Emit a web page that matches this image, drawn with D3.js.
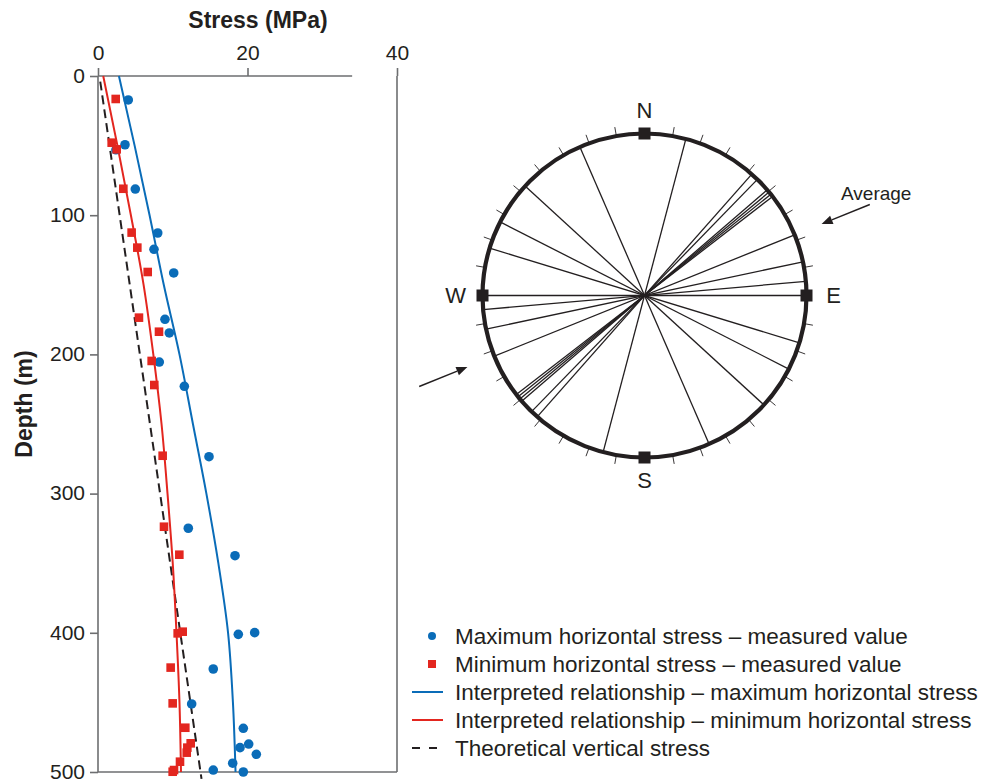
<!DOCTYPE html>
<html>
<head>
<meta charset="utf-8">
<script src="https://cdn.jsdelivr.net/npm/d3@7"></script>
<style>
  html, body { margin: 0; padding: 0; background: #fff; }
  svg { display: block; font-family: "Liberation Sans", Arial, Helvetica, sans-serif; }
</style>
</head>
<body>
<svg id="chart" width="982" height="780"></svg>
<script>
// ---------- DATA ----------
const stressTicks = [0, 20, 40];
const depthTicks = [0, 100, 200, 300, 400, 500];

// Maximum horizontal stress - measured
const maxDepth  = [17.2, 49.4, 53, 81.2, 112.8, 124.5, 141.5, 174.8, 184.6, 205.5, 222.9, 273.5, 324.9, 344.6, 401.1, 399.9, 426, 451.1, 468.6, 479.9, 482.5, 487.3, 493.7, 498.6, 500];
const maxStress = [4.05, 3.61, 2.4, 4.99, 7.99, 7.49, 10.13, 8.96, 9.54, 8.2, 11.55, 14.85, 12.08, 18.33, 18.77, 20.96, 15.42, 12.53, 19.44, 20.16, 19.0, 21.18, 18.02, 15.42, 19.44];

// Minimum horizontal stress - measured
const minDepth  = [16.5, 47.9, 52.7, 81, 112.5, 123.3, 140.8, 173.6, 183.7, 204.7, 222, 272.8, 323.8, 343.9, 400.4, 399.2, 425, 450.7, 468.2, 479.4, 482.5, 486.1, 492.6, 498.6, 499.8];
const minStress = [2.37, 1.83, 2.5, 3.39, 4.5, 5.26, 6.65, 5.48, 8.16, 7.18, 7.53, 8.65, 8.83, 10.88, 10.66, 11.33, 9.72, 9.99, 11.68, 12.4, 11.95, 11.87, 10.97, 10.17, 9.99];

// Interpreted relationships
const fitDepth  = [0, 50, 100, 150, 200, 250, 300, 350, 400, 450, 500];
const maxFit    = [2.8, 4.9, 6.9, 8.8, 10.9, 12.7, 14.5, 16.1, 17.4, 18.05, 18.4];
const minFit    = [0.7, 2.6, 4.4, 6.1, 7.4, 8.5, 9.3, 10.0, 10.5, 10.9, 11.1];

// Theoretical vertical stress
const vertDepth  = [4, 505];
const vertStress = [0.3, 13.85];

// Rose diagram: orientations of maximum horizontal stress (degrees, axial)
const orientations = [14.8, 41.5, 44.2, 49.3, 50.3, 51.3, 52.3, 68, 78, 85, 90, 107, 117, 132.5, 156.5];
const averageOrientation = 68;
const cardinalLabels = ["N", "E", "S", "W"];
const cardinalAngles = [0, 90, 180, 270];

const legendLabels = [
  "Maximum horizontal stress \u2013 measured value",
  "Minimum horizontal stress \u2013 measured value",
  "Interpreted relationship \u2013 maximum horizontal stress",
  "Interpreted relationship \u2013 minimum horizontal stress",
  "Theoretical vertical stress"
];

// ---------- STYLE ----------
const BLUE = "#0a6cb8";
const RED = "#e3261f";
const INK = "#231f20";
const AXIS = "#6d6e70";

const svg = d3.select("#chart");
svg.append("rect").attr("width", 982).attr("height", 780).attr("fill", "#fff");

// ---------- LEFT CHART ----------
const x = d3.scaleLinear().domain([0, 40]).range([98, 397]);
const y = d3.scaleLinear().domain([0, 500]).range([76, 772]);

const g = svg.append("g");

// frame lines
g.append("line").attr("x1", x(0)).attr("x2", x(0)).attr("y1", y(0)).attr("y2", y(500))
  .attr("stroke", AXIS).attr("stroke-width", 1.6);
g.append("line").attr("x1", x(0)).attr("x2", x(34)).attr("y1", y(0)).attr("y2", y(0))
  .attr("stroke", AXIS).attr("stroke-width", 1.6);
g.append("line").attr("x1", x(40)).attr("x2", x(40)).attr("y1", y(0)).attr("y2", y(500))
  .attr("stroke", AXIS).attr("stroke-width", 1.6);
g.append("line").attr("x1", x(0)).attr("x2", x(40)).attr("y1", y(500)).attr("y2", y(500))
  .attr("stroke", AXIS).attr("stroke-width", 1.6);

const topAxis = g.append("g").attr("transform", `translate(0,${y(0)})`)
  .call(d3.axisTop(x).tickValues(stressTicks).tickSize(8).tickPadding(8).tickFormat(d3.format("d")));
const leftAxis = g.append("g").attr("transform", `translate(${x(0)},0)`)
  .call(d3.axisLeft(y).tickValues(depthTicks).tickSize(8).tickPadding(5).tickFormat(d3.format("d")));
[topAxis, leftAxis].forEach(ax => {
  ax.select(".domain").remove();
  ax.selectAll(".tick line").attr("stroke", AXIS).attr("stroke-width", 1.6);
  ax.selectAll(".tick text").attr("fill", INK).style("font-size", "21px")
    .style("font-family", "'Liberation Sans', Arial, sans-serif");
});
leftAxis.selectAll(".tick text").attr("dy", "0.3em");

// titles
svg.append("text").attr("x", 258).attr("y", 28).attr("text-anchor", "middle")
  .attr("font-weight", "bold").attr("font-size", 23).attr("fill", INK).text("Stress (MPa)");
svg.append("text").attr("transform", "translate(32,404) rotate(-90)").attr("text-anchor", "middle")
  .attr("font-weight", "bold").attr("font-size", 23).attr("fill", INK).text("Depth (m)");

// curves
const lineGen = d3.line().x(d => x(d[0])).y(d => y(d[1])).curve(d3.curveMonotoneY);
g.append("path").datum(vertDepth.map((d, i) => [vertStress[i], d]))
  .attr("d", d3.line().x(d => x(d[0])).y(d => y(d[1])))
  .attr("fill", "none").attr("stroke", INK).attr("stroke-width", 2).attr("stroke-dasharray", "9,5");
g.append("path").datum(fitDepth.map((d, i) => [maxFit[i], d]))
  .attr("d", lineGen).attr("fill", "none").attr("stroke", BLUE).attr("stroke-width", 2);
g.append("path").datum(fitDepth.map((d, i) => [minFit[i], d]))
  .attr("d", lineGen).attr("fill", "none").attr("stroke", RED).attr("stroke-width", 2);

// points
g.selectAll("circle.max").data(maxDepth.map((d, i) => [maxStress[i], d])).enter()
  .append("circle").attr("class", "max")
  .attr("cx", d => x(d[0])).attr("cy", d => y(d[1])).attr("r", 4.8).attr("fill", BLUE);
const sq = 8.6;
g.selectAll("rect.min").data(minDepth.map((d, i) => [minStress[i], d])).enter()
  .append("rect").attr("class", "min")
  .attr("x", d => x(d[0]) - sq / 2).attr("y", d => y(d[1]) - sq / 2)
  .attr("width", sq).attr("height", sq).attr("fill", RED);

// ---------- ROSE DIAGRAM ----------
const cx = 644.5, cy = 295.5, R = 162;
const ang = d3.scaleLinear().domain([0, 360]).range([0, 2 * Math.PI]);
const rose = svg.append("g").attr("transform", `translate(${cx},${cy})`);

// orientation lines (diameters)
rose.selectAll("line.or").data(orientations).enter().append("line").attr("class", "or")
  .attr("x1", d => d3.pointRadial(ang(d), R)[0]).attr("y1", d => d3.pointRadial(ang(d), R)[1])
  .attr("x2", d => d3.pointRadial(ang(d + 180), R)[0]).attr("y2", d => d3.pointRadial(ang(d + 180), R)[1])
  .attr("stroke", INK).attr("stroke-width", 1.3);

// outer circle
rose.append("circle").attr("r", R).attr("fill", "none").attr("stroke", INK).attr("stroke-width", 4.2);

// degree ticks
const tickAngles = d3.range(0, 360, 10).filter(a => a % 90 !== 0);
rose.selectAll("line.tk").data(tickAngles).enter().append("line").attr("class", "tk")
  .attr("x1", d => d3.pointRadial(ang(d), R)[0]).attr("y1", d => d3.pointRadial(ang(d), R)[1])
  .attr("x2", d => d3.pointRadial(ang(d), R + 9)[0]).attr("y2", d => d3.pointRadial(ang(d), R + 9)[1])
  .attr("stroke", INK).attr("stroke-width", 0.9);

// cardinal squares and labels
rose.selectAll("rect.card").data(cardinalAngles).enter().append("rect").attr("class", "card")
  .attr("x", d => d3.pointRadial(ang(d), R)[0] - 6).attr("y", d => d3.pointRadial(ang(d), R)[1] - 6)
  .attr("width", 12).attr("height", 12).attr("fill", INK);
const labelR = [R + 23, R + 27, R + 23, R + 27];
rose.selectAll("text.card").data(cardinalAngles).enter().append("text").attr("class", "card")
  .attr("x", (d, i) => d3.pointRadial(ang(d), labelR[i])[0])
  .attr("y", (d, i) => d3.pointRadial(ang(d), labelR[i])[1])
  .attr("dy", "0.36em").attr("text-anchor", "middle").attr("font-size", 22).attr("fill", INK)
  .text((d, i) => cardinalLabels[i]);

// average arrows
[averageOrientation, averageOrientation + 180].forEach(a => {
  const tail = d3.pointRadial(ang(a), 243);
  const tip = d3.pointRadial(ang(a), 191);
  const base = d3.pointRadial(ang(a), 202);
  const dx = tip[0] - tail[0], dy = tip[1] - tail[1];
  const len = Math.hypot(dx, dy);
  const nx = -dy / len, ny = dx / len;
  rose.append("line").attr("x1", tail[0]).attr("y1", tail[1]).attr("x2", base[0]).attr("y2", base[1])
    .attr("stroke", INK).attr("stroke-width", 1.5);
  rose.append("path")
    .attr("d", `M${tip[0]},${tip[1]}L${base[0] + nx * 4.5},${base[1] + ny * 4.5}L${base[0] - nx * 4.5},${base[1] - ny * 4.5}Z`)
    .attr("fill", INK);
});
svg.append("text").attr("x", 841).attr("y", 200).attr("font-size", 19).attr("fill", INK).text("Average");

// ---------- LEGEND ----------
const legend = svg.append("g");
const rowY = d3.scalePoint().domain(d3.range(legendLabels.length)).range([636, 748]);
legendLabels.forEach((lab, i) => {
  const yy = rowY(i);
  legend.append("text").attr("x", 455).attr("y", yy).attr("dy", "0.36em")
    .attr("font-size", 22.5).attr("fill", INK).text(lab);
  if (i === 0) legend.append("circle").attr("cx", 432).attr("cy", yy).attr("r", 4).attr("fill", BLUE);
  if (i === 1) legend.append("rect").attr("x", 428).attr("y", yy - 4).attr("width", 8).attr("height", 8).attr("fill", RED);
  if (i === 2 || i === 3) legend.append("line").attr("x1", 412).attr("x2", 443).attr("y1", yy).attr("y2", yy)
    .attr("stroke", i === 2 ? BLUE : RED).attr("stroke-width", 2);
  if (i === 4) legend.append("line").attr("x1", 412).attr("x2", 438).attr("y1", yy).attr("y2", yy)
    .attr("stroke", INK).attr("stroke-width", 2).attr("stroke-dasharray", "8,9");
});
</script>
</body>
</html>
